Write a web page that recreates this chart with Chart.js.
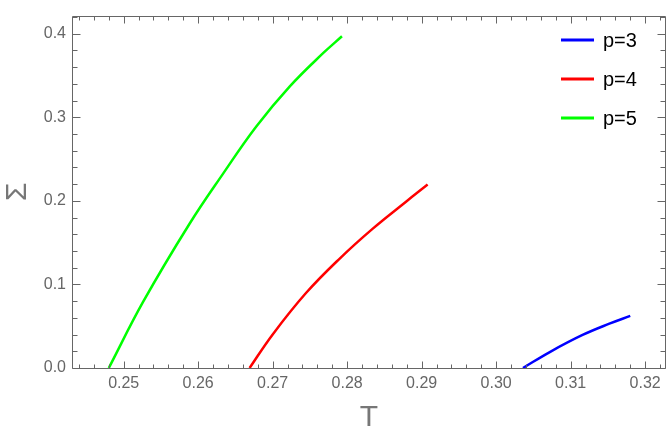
<!DOCTYPE html>
<html>
<head>
<meta charset="utf-8">
<script src="https://cdn.jsdelivr.net/npm/chart.js@4/dist/chart.umd.min.js"></script>
<style>
  html, body { margin: 0; padding: 0; background: #fff; }
  #wrap { width: 667px; height: 436px; }
</style>
</head>
<body>
<div id="wrap"><canvas id="sigma" width="667" height="436"></canvas></div>
<script>
// values (T, Sigma)
let p3T = [0.3036, 0.3072, 0.3116, 0.3152, 0.3180];
let p3S = [0, 0.0191, 0.0395, 0.0530, 0.0623];

let p4T = [0.2669, 0.2700, 0.2745, 0.2790, 0.2834, 0.2879, 0.2908];
let p4S = [0, 0.0402, 0.0900, 0.1310, 0.1665, 0.1990, 0.2195];

let p5T = [0.2480, 0.2526, 0.2588, 0.2633, 0.2678, 0.2723, 0.2768, 0.2793];
let p5S = [0, 0.079, 0.172, 0.232, 0.289, 0.337, 0.377, 0.397];

let seriesNames = ["p=3", "p=4", "p=5"];
let seriesColors = ["#0000ff", "#ff0000", "#00ff00"];

let xTicks = [0.25, 0.26, 0.27, 0.28, 0.29, 0.30, 0.31, 0.32];
let yTicks = [0.0, 0.1, 0.2, 0.3, 0.4];

const FONT = "'Liberation Sans', Arial, sans-serif";
const GREY = "#666666";

function toPoints(ts, ss) {
  return ts.map((t, i) => ({ x: t, y: ss[i] }));
}

// frame with inward ticks on all four sides, like the original plot
const frameTicks = {
  id: "frameTicks",
  afterDraw(chart) {
    const { ctx, chartArea: a, scales } = chart;
    const x = scales.x, y = scales.y;
    const L = Math.round(a.left) + 0.5, R = Math.round(a.right) - 0.5;
    const T = Math.round(a.top) + 0.5, B = Math.round(a.bottom) + 0.5;
    ctx.save();
    ctx.strokeStyle = GREY;
    ctx.lineWidth = 1;
    ctx.beginPath();
    ctx.rect(L, T, R - L, B - T);

    let k0 = Math.ceil(x.min / 0.002 - 1e-6), k1 = Math.floor(x.max / 0.002 + 1e-6);
    for (let k = k0; k <= k1; k++) {
      let px = Math.round(x.getPixelForValue(k * 0.002)) + 0.5;
      let len = k % 5 == 0 ? 7 : 4;
      ctx.moveTo(px, B); ctx.lineTo(px, B - len);
      ctx.moveTo(px, T); ctx.lineTo(px, T + len);
    }
    k0 = Math.ceil(y.min / 0.02 - 1e-6); k1 = Math.floor(y.max / 0.02 + 1e-6);
    for (let k = k0; k <= k1; k++) {
      let py = Math.round(y.getPixelForValue(k * 0.02)) + 0.5;
      let len = k % 5 == 0 ? 8 : 5;
      ctx.moveTo(L, py); ctx.lineTo(L + len, py);
      ctx.moveTo(R, py); ctx.lineTo(R - len, py);
    }
    ctx.stroke();
    ctx.restore();
  }
};

// legend drawn inside the plot, top right
const insideLegend = {
  id: "insideLegend",
  afterDraw(chart) {
    const ctx = chart.ctx;
    ctx.save();
    ctx.font = "20px " + FONT;
    ctx.textBaseline = "middle";
    chart.data.datasets.forEach((ds, i) => {
      let yy = 40 + i * 39;
      ctx.strokeStyle = ds.borderColor;
      ctx.lineWidth = 3;
      ctx.beginPath();
      ctx.moveTo(561, yy);
      ctx.lineTo(594, yy);
      ctx.stroke();
      ctx.fillStyle = "#000";
      ctx.fillText(ds.label, 603, yy + 1);
    });
    ctx.restore();
  }
};

let ctx = document.getElementById("sigma").getContext("2d");
let graph = new Chart(ctx, {
  type: "scatter",
  data: {
    datasets: [
      { label: seriesNames[0], data: toPoints(p3T, p3S), borderColor: seriesColors[0] },
      { label: seriesNames[1], data: toPoints(p4T, p4S), borderColor: seriesColors[1] },
      { label: seriesNames[2], data: toPoints(p5T, p5S), borderColor: seriesColors[2] }
    ].map(ds => Object.assign(ds, {
      showLine: true,
      borderWidth: 2.5,
      pointRadius: 0,
      tension: 0.4,
      backgroundColor: ds.borderColor
    }))
  },
  options: {
    responsive: false,
    animation: false,
    layout: { padding: { top: 1, right: 1, left: 0, bottom: 0 } },
    plugins: { legend: { display: false }, tooltip: { enabled: false } },
    scales: {
      x: {
        type: "linear",
        min: 0.24306,
        max: 0.3228,
        afterBuildTicks: s => { s.ticks = xTicks.map(v => ({ value: v })); },
        afterFit: s => { s.height = 68; },
        grid: { display: false, drawTicks: false },
        border: { display: false },
        ticks: {
          padding: 6,
          color: GREY,
          font: { family: FONT, size: 16 },
          maxRotation: 0,
          autoSkip: false,
          callback: v => v.toFixed(2)
        },
        title: {
          display: true,
          text: "T",
          color: "#777777",
          font: { family: FONT, size: 30 },
          padding: { top: 0, bottom: 0 }
        }
      },
      y: {
        min: 0,
        max: 0.4217,
        afterBuildTicks: s => { s.ticks = yTicks.map(v => ({ value: v })); },
        afterFit: s => { s.width = 72; },
        grid: { display: false, drawTicks: false },
        border: { display: false },
        ticks: {
          padding: 6,
          color: GREY,
          font: { family: FONT, size: 16 },
          autoSkip: false,
          callback: v => v.toFixed(1)
        },
        title: {
          display: true,
          text: "Σ",
          color: "#777777",
          font: { family: FONT, size: 30 },
          padding: { top: 0, bottom: 0 }
        }
      }
    }
  },
  plugins: [frameTicks, insideLegend]
});
</script>
</body>
</html>
